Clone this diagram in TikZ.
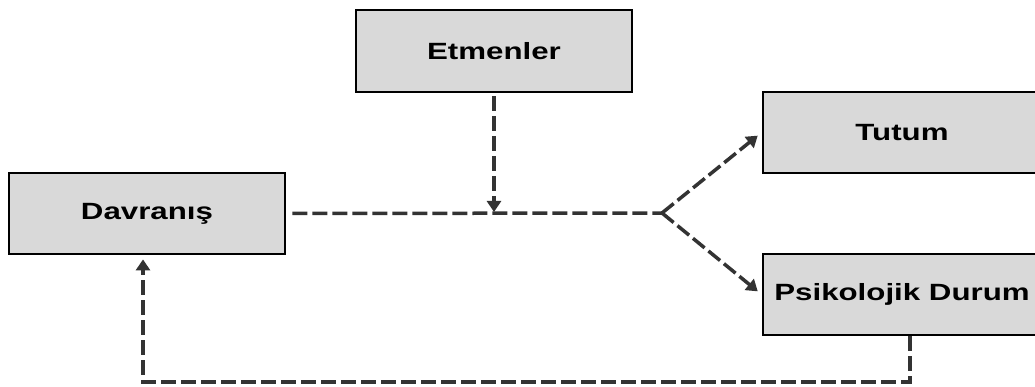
\documentclass[tikz,border=0pt]{standalone}
\usepackage{fontspec}
\setmainfont{Liberation Sans}
\usetikzlibrary{arrows.meta}
\definecolor{boxfill}{HTML}{D9D9D9}
\definecolor{linegray}{HTML}{333333}
\tikzset{
  box/.style={draw=black, line width=2.8pt, fill=boxfill, rectangle, inner sep=0pt,
    font=\fontsize{23.5}{28}\selectfont\bfseries},
  dashline/.style={draw=linegray, line width=3.5pt, dash pattern=on 15pt off 5pt},
  arr/.style={dashline, -{Triangle[length=11pt,width=14pt]}}
}
\newcommand{\wide}[1]{\scalebox{1.33}[1]{#1}}
\begin{document}
\begin{tikzpicture}[x=1pt,y=-1pt]
\useasboundingbox (0,0) rectangle (1035,387);
\clip (0,0) rectangle (1035,387);
\fill[white] (0,0) rectangle (1035,387);
\node[box, minimum width=276pt, minimum height=82pt] (etm) at (494,51) {\wide{Etmenler}};
\node[box, minimum width=276pt, minimum height=81pt] (dav) at (147,213.5) {\wide{Davranış}};
\node[box, minimum width=278pt, minimum height=81pt] (tut) at (902,132.5) {\wide{Tutum}};
\node[box, minimum width=278pt, minimum height=81pt] (psi) at (902,294.5) {\wide{Psikolojik Durum}};
\coordinate (J) at (662,213);
\coordinate (fbR) at (910,382);
\coordinate (fbL) at (143,382);
\draw[dashline, shorten <=6pt] (dav.east) -- (J);
\draw[arr, shorten <=3pt, shorten >=1pt] (etm.south) -- (etm.south |- J);
\draw[arr, shorten >=5pt] (J) -- (tut.west);
\draw[arr, shorten >=5pt] (J) -- (psi.west);
\draw[arr, shorten >=4pt] (psi.south -| fbR) -- (fbR) -- (fbL) -- (dav.south -| fbL);
\end{tikzpicture}
\end{document}
